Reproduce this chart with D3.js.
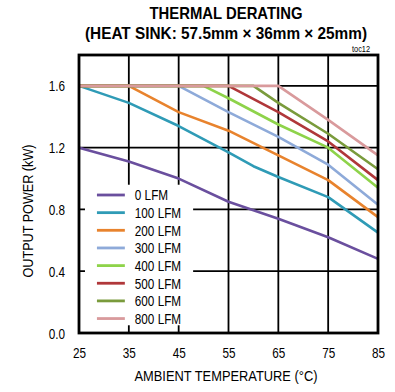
<!DOCTYPE html>
<html>
<head>
<meta charset="utf-8">
<script src="https://cdn.jsdelivr.net/npm/d3@7"></script>
<style>
  body { margin: 0; background: #fff; }
  svg text { font-family: "Liberation Sans", Arial, sans-serif; fill: #000; }
</style>
</head>
<body>
<div id="chart"></div>
<script>
// temperature (°C) / output power (kW) pairs
const seriesNames = ['0 LFM', '100 LFM', '200 LFM', '300 LFM', '400 LFM', '500 LFM', '600 LFM', '800 LFM'];
const seriesColors = ['#6a4f9e', '#2f9bb6', '#e8832d', '#8eaad9', '#8ed34a', '#b0373a', '#7a9b3c', '#d99a9c'];

const temp0 = [25, 35, 45, 55, 65, 75, 85];
const power0 = [1.2, 1.11, 1.0, 0.85, 0.74, 0.62, 0.48];
const temp100 = [25, 35, 45, 55, 60, 65, 75, 85];
const power100 = [1.6, 1.49, 1.34, 1.17, 1.08, 1.01, 0.88, 0.65];
const temp200 = [25, 35, 45, 55, 65, 75, 85];
const power200 = [1.6, 1.6, 1.43, 1.31, 1.15, 0.99, 0.75];
const temp300 = [25, 45, 55, 65, 75, 85];
const power300 = [1.6, 1.6, 1.43, 1.27, 1.09, 0.83];
const temp400 = [25, 50, 55, 65, 75, 85];
const power400 = [1.6, 1.6, 1.52, 1.35, 1.2, 0.94];
const temp500 = [25, 55, 65, 75, 85];
const power500 = [1.6, 1.6, 1.43, 1.24, 0.99];
const temp600 = [25, 60, 65, 75, 85];
const power600 = [1.6, 1.6, 1.49, 1.29, 1.06];
const temp800 = [25, 65, 75, 85];
const power800 = [1.6, 1.6, 1.38, 1.15];

const xTicks = [25, 35, 45, 55, 65, 75, 85];
const yTicks = [0, 0.4, 0.8, 1.2, 1.6];

const temps = [temp0, temp100, temp200, temp300, temp400, temp500, temp600, temp800];
const powers = [power0, power100, power200, power300, power400, power500, power600, power800];
const series = seriesNames.map((name, i) => ({
  name,
  color: seriesColors[i],
  points: temps[i].map((t, j) => ({ t, p: powers[i][j] }))
}));

const width = 395, height = 392;
const margins = { top: 55, right: 17, bottom: 59, left: 79 };
const chartWidth = width - margins.left - margins.right;
const chartHeight = height - margins.top - margins.bottom;
const narrow = 0.84; // the original uses a condensed face

const svg = d3.select('#chart').append('svg')
  .attr('width', width)
  .attr('height', height);

// titles
svg.append('text').attr('x', 226).attr('y', 19).attr('text-anchor', 'middle')
  .attr('textLength', 153).attr('lengthAdjust', 'spacingAndGlyphs')
  .style('font-size', '16.5px').style('font-weight', 'bold').text('THERMAL DERATING');
svg.append('text').attr('x', 226).attr('y', 39).attr('text-anchor', 'middle')
  .attr('textLength', 282).attr('lengthAdjust', 'spacingAndGlyphs')
  .style('font-size', '16px').style('font-weight', 'bold').text('(HEAT SINK: 57.5mm × 36mm × 25mm)');
svg.append('text').attr('x', 370).attr('y', 52).attr('text-anchor', 'end')
  .attr('textLength', 18).attr('lengthAdjust', 'spacingAndGlyphs')
  .style('font-size', '9.5px').text('toc12');

const g = svg.append('g').attr('transform', `translate(${margins.left},${margins.top})`);

const xScale = d3.scaleLinear().domain([25, 85]).range([0, chartWidth]);
const yScale = d3.scaleLinear().domain([0, 1.8]).range([chartHeight, 0]);

// grid
g.append('g').selectAll('line').data(xTicks.slice(1, -1)).enter().append('line')
  .attr('x1', d => xScale(d)).attr('x2', d => xScale(d))
  .attr('y1', 0).attr('y2', chartHeight)
  .attr('stroke', '#000').attr('stroke-width', 1.8);
g.append('g').selectAll('line').data(yTicks.slice(1)).enter().append('line')
  .attr('x1', 0).attr('x2', chartWidth)
  .attr('y1', d => yScale(d)).attr('y2', d => yScale(d))
  .attr('stroke', '#000').attr('stroke-width', 1.8);

// legend backdrop hides the grid under it
const legendLeft = xScale(26.2), legendTop = yScale(0.96);
g.append('rect')
  .attr('x', legendLeft).attr('y', legendTop)
  .attr('width', xScale(47.9) - legendLeft).attr('height', yScale(0.05) - legendTop)
  .attr('fill', '#fff');

const lineGenerator = d3.line().x(d => xScale(d.t)).y(d => yScale(d.p));

g.append('g').selectAll('path').data(series).enter().append('path')
  .attr('d', d => lineGenerator(d.points))
  .attr('fill', 'none')
  .attr('stroke', d => d.color)
  .attr('stroke-width', 2.6)
  .attr('stroke-linejoin', 'round');

// frame
g.append('rect').attr('x', 0).attr('y', 0).attr('width', chartWidth).attr('height', chartHeight)
  .attr('fill', 'none').attr('stroke', '#000').attr('stroke-width', 2.8);

// axes
const xAxis = d3.axisBottom(xScale).tickValues(xTicks).tickSize(0).tickPadding(15).tickFormat(d3.format('d'));
const xg = g.append('g').attr('transform', `translate(0,${chartHeight})`).call(xAxis);
xg.select('.domain').remove();
xg.selectAll('text').attr('dy', 0).attr('y', 25)
  .attr('transform', `scale(${narrow},1)`).style('font-size', '14px');

const yAxis = d3.axisLeft(yScale).tickValues(yTicks).tickSize(0).tickPadding(14).tickFormat(d3.format('.1f'));
const yg = g.append('g').call(yAxis);
yg.select('.domain').remove();
yg.selectAll('text').attr('dy', '0.36em').attr('x', -14 / narrow)
  .attr('transform', `scale(${narrow},1)`).style('font-size', '14px');

svg.append('text').attr('x', 226).attr('y', 381).attr('text-anchor', 'middle')
  .attr('textLength', 183).attr('lengthAdjust', 'spacingAndGlyphs')
  .style('font-size', '15.5px').text('AMBIENT TEMPERATURE (°C)');
svg.append('text').attr('transform', 'translate(33,211) rotate(-90)')
  .attr('text-anchor', 'middle')
  .attr('textLength', 133).attr('lengthAdjust', 'spacingAndGlyphs')
  .style('font-size', '14.5px').text('OUTPUT POWER (kW)');

// legend
const legend = g.append('g').selectAll('g').data(series).enter().append('g')
  .attr('transform', (d, i) => `translate(0,${140 + i * 17.65})`);
legend.append('line')
  .attr('x1', xScale(28.6)).attr('x2', xScale(34.2))
  .attr('y1', 0).attr('y2', 0)
  .attr('stroke', d => d.color).attr('stroke-width', 2.8);
legend.append('text')
  .attr('transform', `translate(${xScale(36.2)},5.3) scale(${narrow},1)`)
  .style('font-size', '14px')
  .text(d => d.name);
</script>
</body>
</html>
